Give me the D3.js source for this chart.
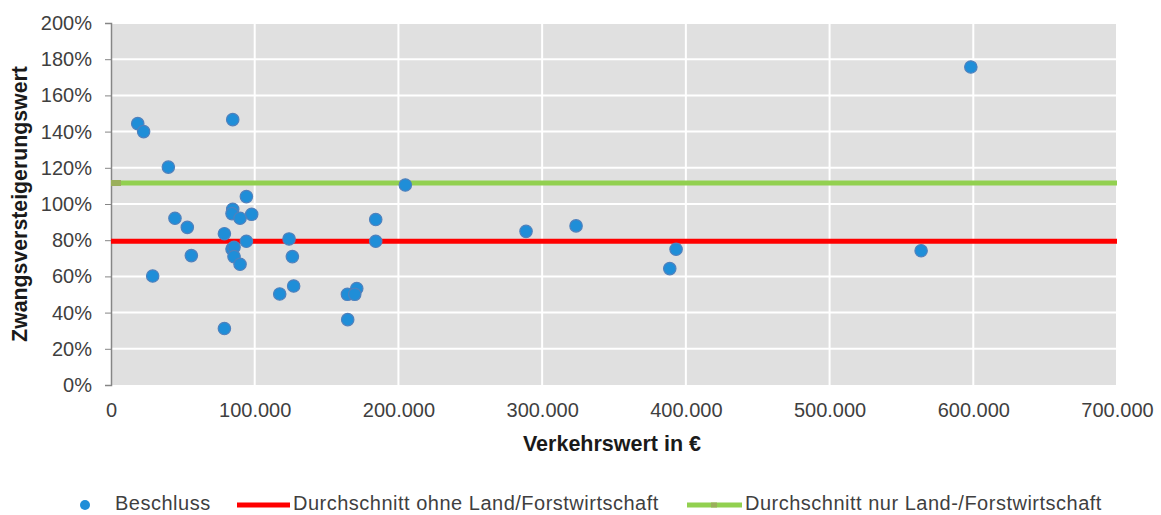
<!DOCTYPE html>
<html>
<head>
<meta charset="utf-8">
<script src="https://cdn.jsdelivr.net/npm/d3@7"></script>
<style>
  body { margin: 0; background: #fff; }
  text { font-family: "Liberation Sans", Arial, sans-serif; fill: #3f3f3f; }
</style>
</head>
<body>
<div id="chart"></div>
<script>
// Verkehrswert (EUR) and Zwangsversteigerungswert (%) per Beschluss
const verkehrswert = [
  18600, 22700, 84700, 39900, 94200, 84700, 84200, 89800, 97900, 44500,
  53100, 78900, 94200, 123900, 84200, 85600, 85600, 89800, 55900, 126200,
  29000, 127100, 117400, 78900, 204800, 184200, 184200, 171000, 164500, 169600,
  164700, 288800, 323600, 393200, 388800, 563700, 598300,
];
const quote = [
  144.4, 140.0, 146.6, 120.4, 104.1, 97.1, 94.7, 92.1, 94.3, 92.1,
  87.1, 83.6, 79.4, 80.7, 75.1, 76.1, 70.9, 66.7, 71.5, 70.9,
  60.2, 54.7, 50.3, 31.2, 110.5, 91.4, 79.4, 53.3, 50.1, 50.1,
  36.1, 84.9, 87.9, 75.0, 64.3, 74.2, 175.7,
];

const avgOhneLandForst = 79.4;
const avgNurLandForst = 111.6;
const lineRange = [0, 700000];

const xTicks = [0, 100000, 200000, 300000, 400000, 500000, 600000, 700000];
const yTicks = [0, 20, 40, 60, 80, 100, 120, 140, 160, 180, 200];

const legendLabels = [
  'Beschluss',
  'Durchschnitt ohne Land/Forstwirtschaft',
  'Durchschnitt nur Land-/Forstwirtschaft',
];

const W = 1161;
const H = 515;
const margin = {
  top: 23, right: 44, bottom: 130, left: 111,
};
const width = W - margin.left - margin.right;
const height = H - margin.top - margin.bottom;

const svg = d3.select('#chart').append('svg')
  .attr('width', W)
  .attr('height', H);

const g = svg.append('g')
  .attr('transform', `translate(${margin.left},${margin.top})`);

const x = d3.scaleLinear().domain([0, 700000]).range([0, width]);
const y = d3.scaleLinear().domain([0, 200]).range([height, 0]);

const deFmt = d3.formatLocale({
  decimal: ',', thousands: '.', grouping: [3], currency: ['', ' €'],
}).format(',');

// plot background
g.append('rect')
  .attr('width', width)
  .attr('height', height)
  .attr('fill', '#e0e0e0');

// grid
g.append('g').selectAll('line')
  .data(yTicks.slice(1))
  .enter()
  .append('line')
  .attr('x1', 0)
  .attr('x2', width)
  .attr('y1', (d) => y(d))
  .attr('y2', (d) => y(d))
  .attr('stroke', '#fff')
  .attr('stroke-width', 2);

g.append('g').selectAll('line')
  .data(xTicks.slice(1))
  .enter()
  .append('line')
  .attr('x1', (d) => x(d))
  .attr('x2', (d) => x(d))
  .attr('y1', 0)
  .attr('y2', height)
  .attr('stroke', '#fff')
  .attr('stroke-width', 2);

// y axis
const yAxis = g.append('g')
  .call(d3.axisLeft(y).tickValues(yTicks).tickFormat((d) => `${d}%`).tickSize(6).tickPadding(13));
yAxis.select('.domain').attr('stroke', '#868686').attr('stroke-width', 1.5);
yAxis.selectAll('.tick line').attr('stroke', '#868686');
yAxis.selectAll('text')
  .attr('font-size', 20)
  .attr('fill', '#3f3f3f');

// x axis (labels only)
const xAxis = g.append('g')
  .attr('transform', `translate(0,${height})`)
  .call(d3.axisBottom(x).tickValues(xTicks).tickFormat(deFmt).tickSize(0).tickPadding(18));
xAxis.select('.domain').remove();
xAxis.selectAll('text')
  .attr('font-size', 20)
  .attr('fill', '#3f3f3f');

// average lines
const line = d3.line().x((d) => x(d[0])).y((d) => y(d[1]));

g.append('path')
  .datum(lineRange.map((v) => [v, avgOhneLandForst]))
  .attr('d', line)
  .attr('stroke', '#ff0000')
  .attr('stroke-width', 5)
  .attr('fill', 'none');

g.append('path')
  .datum(lineRange.map((v) => [v, avgNurLandForst]))
  .attr('d', line)
  .attr('stroke', '#92d050')
  .attr('stroke-width', 5)
  .attr('fill', 'none');

// marker at the start of the green series
g.append('rect')
  .attr('x', x(lineRange[0]))
  .attr('y', y(avgNurLandForst) - 3)
  .attr('width', 10)
  .attr('height', 6)
  .attr('fill', '#9aaf5b');

// points
g.append('g').selectAll('circle')
  .data(verkehrswert.map((v, i) => [v, quote[i]]))
  .enter()
  .append('circle')
  .attr('cx', (d) => x(d[0]))
  .attr('cy', (d) => y(d[1]))
  .attr('r', 6.2)
  .attr('fill', '#1f8ed8')
  .attr('stroke', '#4f81bd')
  .attr('stroke-width', 1.2);

// axis titles
svg.append('text')
  .attr('x', 612)
  .attr('y', 451)
  .attr('text-anchor', 'middle')
  .attr('font-size', 21.5)
  .attr('font-weight', 'bold')
  .style('fill', '#1a1a1a')
  .text('Verkehrswert in €');

svg.append('text')
  .attr('transform', 'translate(27,204) rotate(-90)')
  .attr('text-anchor', 'middle')
  .attr('font-size', 21.3)
  .attr('font-weight', 'bold')
  .style('fill', '#1a1a1a')
  .text('Zwangsversteigerungswert');

// legend
const ly = 505;
const legend = svg.append('g')
  .attr('font-size', 20)
  .attr('letter-spacing', 0.5);
legend.append('circle')
  .attr('cx', 85).attr('cy', ly).attr('r', 5)
  .attr('fill', '#1f8ed8');
legend.append('text')
  .attr('x', 115).attr('y', ly + 5)
  .text(legendLabels[0]);

legend.append('line')
  .attr('x1', 237).attr('x2', 290).attr('y1', ly).attr('y2', ly)
  .attr('stroke', '#ff0000').attr('stroke-width', 5);
legend.append('text')
  .attr('x', 293).attr('y', ly + 5)
  .text(legendLabels[1]);

legend.append('line')
  .attr('x1', 687).attr('x2', 742).attr('y1', ly).attr('y2', ly)
  .attr('stroke', '#92d050').attr('stroke-width', 5);
legend.append('rect')
  .attr('x', 711).attr('y', ly - 2.5).attr('width', 6).attr('height', 5)
  .attr('fill', '#9aaf5b');
legend.append('text')
  .attr('x', 745).attr('y', ly + 5)
  .text(legendLabels[2]);
</script>
</body>
</html>
